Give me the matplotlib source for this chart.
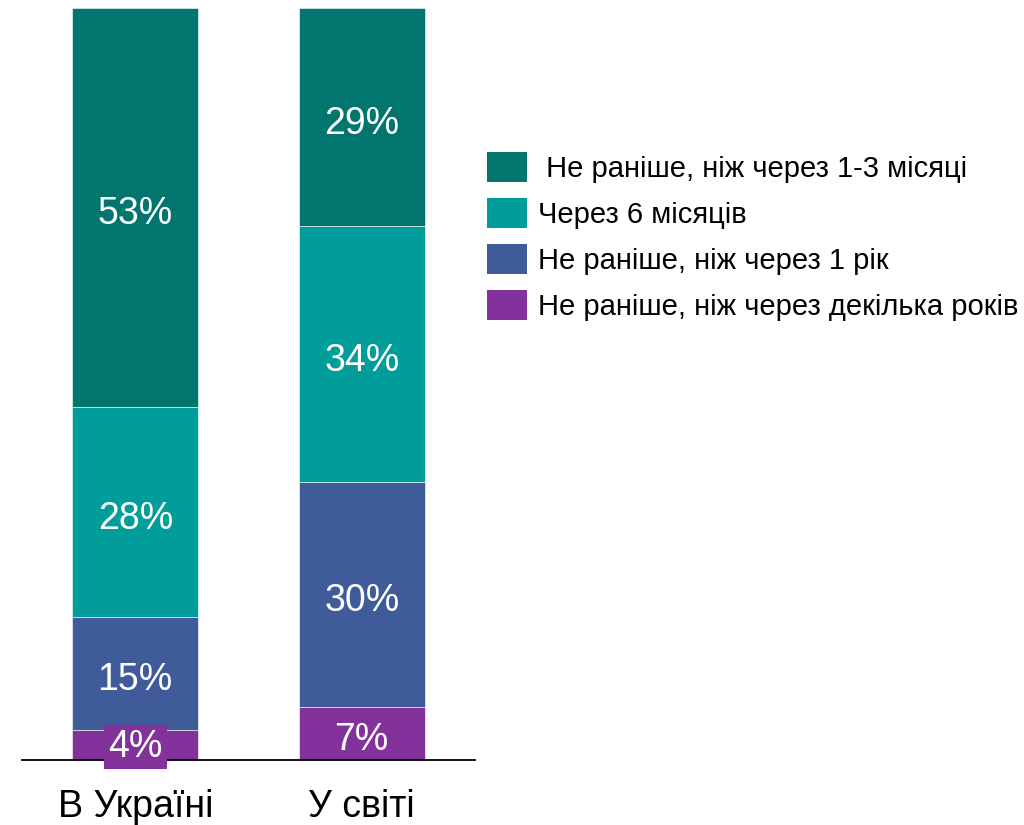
import matplotlib.pyplot as plt
from matplotlib.patches import Patch

plt.rcParams['font.family'] = ['Liberation Sans', 'DejaVu Sans']

categories = ["В Україні", "У світі"]
series_names = [" Не раніше, ніж через 1-3 місяці",
                "Через 6 місяців",
                "Не раніше, ніж через 1 рік",
                "Не раніше, ніж через декілька років"]
# values per series, [Ukraine, World]
months_1_3 = [53, 29]
months_6 = [28, 34]
year_1 = [15, 30]
years_several = [4, 7]
colors = ["#02766E", "#009D9A", "#3F5B9A", "#84329B"]

fig = plt.figure(figsize=(10.24, 8.25), dpi=100)
ax = fig.add_axes([22 / 1024, 1 - 760 / 825, 453 / 1024, 752 / 825])

# stack from bottom: several years, 1 year, 6 months, 1-3 months
stack = [years_several, year_1, months_6, months_1_3]
stack_colors = colors[::-1]
x = [0, 1]
bottom = [0, 0]
for vals, col in zip(stack, stack_colors):
    ax.bar(x, vals, bottom=bottom, width=0.555, color=col,
           edgecolor='white', linewidth=0.4)
    for i, v in enumerate(vals):
        if v < 5:
            ax.text(x[i], bottom[i] + v / 2 - 0.3, f"{v}%", ha='center',
                    va='center', color='white', fontsize=27,
                    bbox=dict(facecolor=col, edgecolor='none', pad=3))
        else:
            ax.text(x[i], bottom[i] + v / 2 - 0.9, f"{v}%", ha='center',
                    va='center', color='white', fontsize=27)
    bottom = [b + v for b, v in zip(bottom, vals)]

ax.set_xlim(-0.5, 1.5)
ax.set_ylim(0, 100)
for s in ['top', 'right', 'left']:
    ax.spines[s].set_visible(False)
ax.spines['bottom'].set_linewidth(1.3)
ax.set_yticks([])
ax.set_xticks(x)
ax.set_xticklabels(categories, fontsize=27)
ax.tick_params(axis='x', length=0, pad=21)

handles = [Patch(facecolor=c, edgecolor='none') for c in colors]
fig.legend(handles, series_names, loc='upper left',
           bbox_to_anchor=(487 / 1024, 1 - 152 / 825),
           frameon=False, fontsize=21, handlelength=1.38, handleheight=1.2,
           labelspacing=0.52, handletextpad=0.38, borderpad=0, borderaxespad=0)

fig.savefig("out.png", dpi=100)
